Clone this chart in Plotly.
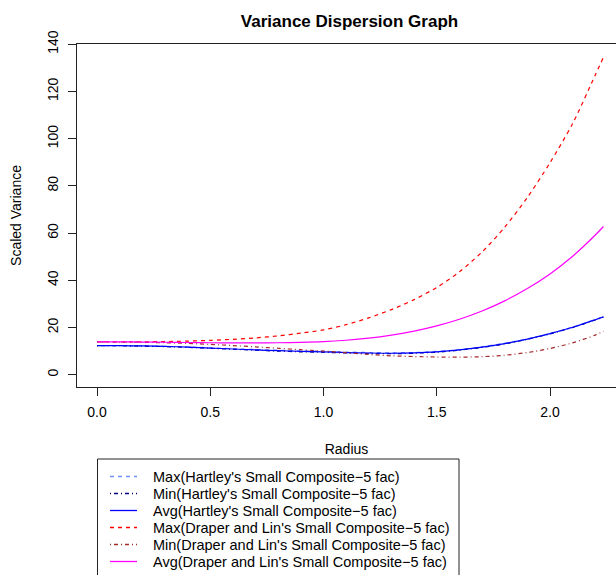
import plotly.graph_objects as go

# ---------------- data ----------------
radius = [0.0, 0.1, 0.2, 0.3, 0.4, 0.5, 0.6, 0.7, 0.8, 0.9, 1.0, 1.1,
          1.2, 1.3, 1.4, 1.5, 1.6, 1.7, 1.8, 1.9, 2.0, 2.1, 2.2, 2.236]

max_hartley = [12.3, 12.3, 12.2, 12.0, 11.8, 11.4, 11.0, 10.7, 10.4, 10.1, 9.9, 9.6,
               9.4, 9.3, 9.4, 9.85, 10.6, 11.85, 13.35, 15.2, 17.5, 20.2, 23.4, 24.6]
min_hartley = [12.3, 12.3, 12.1, 11.9, 11.6, 11.2, 10.8, 10.4, 10.0, 9.7, 9.5, 9.2,
               9.0, 8.9, 9.1, 9.55, 10.4, 11.55, 13.05, 15.0, 17.3, 20.0, 23.2, 24.4]
avg_hartley = [12.3, 12.3, 12.2, 12.0, 11.7, 11.3, 10.9, 10.5, 10.2, 9.9, 9.7, 9.4,
               9.2, 9.1, 9.25, 9.7, 10.5, 11.7, 13.2, 15.1, 17.4, 20.1, 23.3, 24.5]
max_draper = [13.9, 13.9, 13.95, 14.05, 14.25, 14.55, 15.0, 15.6, 16.45, 17.6, 19.0, 21.2,
              24.1, 27.6, 31.8, 37.0, 43.6, 52.0, 62.5, 75.1, 89.8, 106.4, 127.0, 134.5]
min_draper = [13.9, 13.85, 13.75, 13.55, 13.25, 12.85, 12.35, 11.8, 11.2, 10.6, 10.0, 9.35,
              8.6, 8.0, 7.7, 7.5, 7.45, 7.65, 8.25, 9.4, 11.1, 13.5, 16.8, 18.4]
avg_draper = [13.9, 13.9, 13.85, 13.75, 13.65, 13.55, 13.5, 13.5, 13.55, 13.7, 14.0, 14.6,
              15.5, 16.8, 18.5, 20.7, 23.5, 27.0, 31.3, 36.5, 42.7, 50.2, 59.2, 62.8]

series_names = [
    "Max(Hartley's Small Composite\u22125 fac)",
    "Min(Hartley's Small Composite\u22125 fac)",
    "Avg(Hartley's Small Composite\u22125 fac)",
    "Max(Draper and Lin's Small Composite\u22125 fac)",
    "Min(Draper and Lin's Small Composite\u22125 fac)",
    "Avg(Draper and Lin's Small Composite\u22125 fac)",
]
series_values = [max_hartley, min_hartley, avg_hartley, max_draper, min_draper, avg_draper]
series_colors = ["#6f8fff", "#00007a", "#0000ff", "#ff0000", "#a52a2a", "#ff00ff"]
series_dashes = ["4px,4px", "1px,3px,4px,3px", "solid", "4px,4px", "1px,3px,4px,3px", "solid"]

x_ticks = [0.0, 0.5, 1.0, 1.5, 2.0]
y_ticks = [0, 20, 40, 60, 80, 100, 120, 140]

# ---------------- layout geometry ----------------
W, H = 616, 575
L, R, T, B = 77, 0, 44, 188
PW, PH = W - L - R, H - T - B
FONT = "Liberation Sans, Arial, Helvetica, sans-serif"


def px(x):
    return (x - L) / PW


def py(y):
    return (H - B - y) / PH


fig = go.Figure()
for name, vals, col, dash in zip(series_names, series_values, series_colors, series_dashes):
    fig.add_trace(go.Scatter(x=radius, y=vals, mode="lines", name=name,
                             line=dict(color=col, width=1.2, dash=dash, shape="spline",
                                       smoothing=0.8),
                             showlegend=False))

# manual legend (R style box with entries)
shapes = [dict(type="rect", xref="paper", yref="paper",
               x0=px(97.5), x1=px(459), y0=py(459), y1=py(590),
               line=dict(color="#222", width=1), fillcolor="rgba(0,0,0,0)")]
annotations = []
for i, (name, col, dash) in enumerate(zip(series_names, series_colors, series_dashes)):
    yc = 476.5 + 17 * i
    shapes.append(dict(type="line", xref="paper", yref="paper",
                       x0=px(110), x1=px(137), y0=py(yc), y1=py(yc),
                       line=dict(color=col, width=1.3, dash=dash)))
    annotations.append(dict(xref="paper", yref="paper", x=px(151), y=py(yc),
                            xanchor="left", yanchor="middle", showarrow=False,
                            text=name, font=dict(family=FONT, size=14.5, color="#000")))

fig.update_layout(
    width=W, height=H,
    margin=dict(l=L, r=R, t=T, b=B, autoexpand=False),
    paper_bgcolor="white", plot_bgcolor="white",
    title=dict(text="<b>Variance Dispersion Graph</b>", xref="container", yref="container",
               x=349.5 / W, y=1 - 21 / H, xanchor="center", yanchor="middle",
               font=dict(family=FONT, size=17, color="#000")),
    shapes=shapes, annotations=annotations,
    font=dict(family=FONT, size=14, color="#000"),
)
fig.update_xaxes(range=[(L - 97) / 226.5, (W - 97) / 226.5], tickvals=x_ticks,
                 ticktext=[f"{v:.1f}" for v in x_ticks],
                 showgrid=False, zeroline=False, showline=True, mirror=True,
                 linecolor="#222", linewidth=1, ticks="outside", ticklen=8,
                 tickcolor="#222", ticklabelstandoff=4,
                 title=dict(text="Radius", standoff=25, font=dict(size=14)),
                 automargin=False)
fig.update_yaxes(range=[-5.2, 140.1], tickvals=y_ticks, tickangle=-90,
                 showgrid=False, zeroline=False, showline=True, mirror=False,
                 linecolor="#222", linewidth=1, ticks="outside", ticklen=8,
                 tickcolor="#222", ticklabelstandoff=4,
                 title=dict(text="Scaled Variance", standoff=20, font=dict(size=14)),
                 automargin=False)

fig.write_html("out.html")
